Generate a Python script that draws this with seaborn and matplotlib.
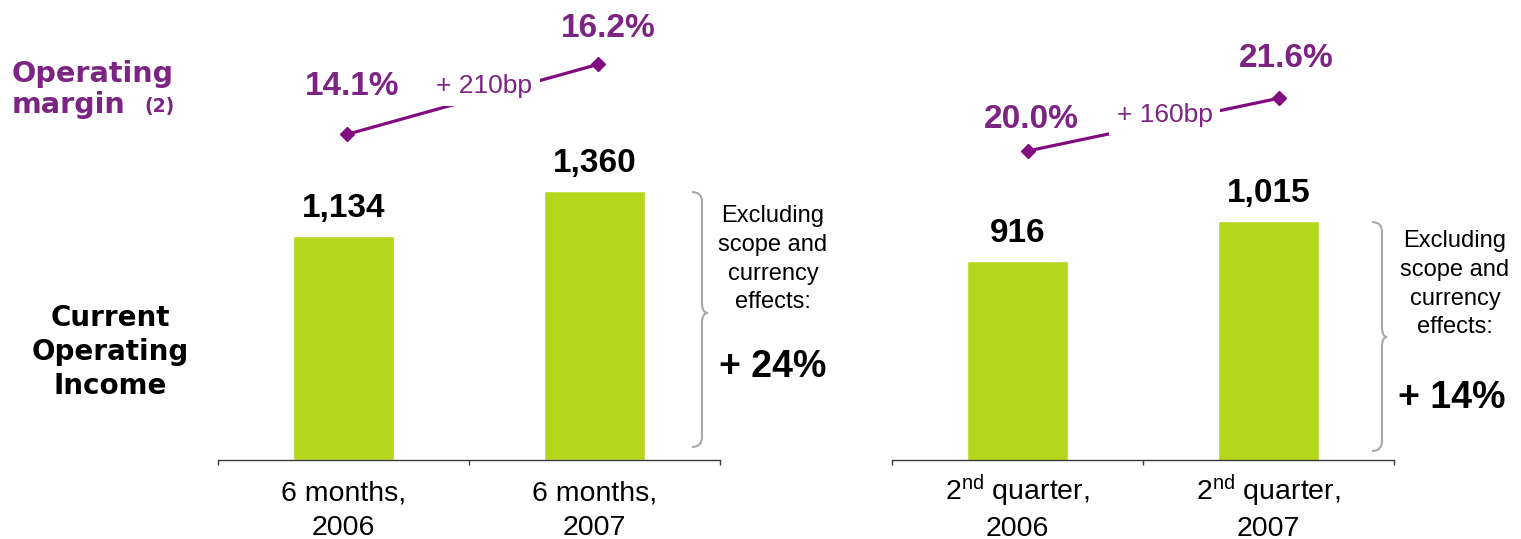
import matplotlib
matplotlib.use("Agg")
import matplotlib.pyplot as plt
import seaborn as sns
import pandas as pd
from matplotlib.path import Path
from matplotlib.patches import PathPatch

# ---- data -------------------------------------------------------------
half_year_periods = ["6 months,\n2006", "6 months,\n2007"]
half_year_income = [1134, 1360]
half_year_margin = [14.1, 16.2]

quarter_periods = ["2$^{\\mathrm{nd}}$ quarter,\n2006", "2$^{\\mathrm{nd}}$ quarter,\n2007"]
quarter_income = [916, 1015]
quarter_margin = [20.0, 21.6]

margin_change = ["+ 210bp", "+ 160bp"]
organic_growth = ["+ 24%", "+ 14%"]
note_text = "Excluding\nscope and\ncurrency\neffects:"

# ---- style ------------------------------------------------------------
W, H = 1521, 539
GREEN = "#B4D71E"
PURPLE_LINE = "#800C80"
PURPLE_TEXT = "#7B2482"
BRACE_GREY = "#A8A8A8"
AXIS_GREY = "#3A3A3A"

sns.set_style("white")
plt.rcParams["font.family"] = ["Liberation Sans", "DejaVu Sans"]
plt.rcParams["mathtext.fontset"] = "custom"
plt.rcParams["mathtext.rm"] = "Liberation Sans"
plt.rcParams["mathtext.it"] = "Liberation Sans:italic"
plt.rcParams["mathtext.bf"] = "Liberation Sans:bold"

fig = plt.figure(figsize=(W / 100, H / 100), dpi=100)


def fx(x):
    return x / W


def fy(y):
    return 1 - y / H


def ftext(x, y, s, **kw):
    return fig.text(fx(x), fy(y), s, **kw)


PX2PT = 72 / 100

panels = [
    dict(left=218, periods=half_year_periods, income=half_year_income,
         margin=half_year_margin, income_lim=(0, 2327),
         margin_lim=(4.328, 18.129), shift=0.015,
         label_px=[(4.8, 39), (10, 27)], tick_pad=14.5, tick_ls=1.45,
         change=margin_change[0], change_xy=(484, 92.7),
         brace=(692, 702, 708, 192, 313, 447),
         note_xy=(773, 205), growth=organic_growth[0], growth_xy=(772.5, 376.7)),
    dict(left=892, periods=quarter_periods, income=quarter_income,
         margin=quarter_margin, income_lim=(423.5, 1562),
         margin_lim=(10.619, 24.584), shift=0.04,
         label_px=[(3.3, 23), (8, 31.6)], tick_pad=9.0, tick_ls=1.34,
         change=margin_change[1], change_xy=(1164.5, 121.7),
         brace=(1372, 1382, 1387, 222, 337, 451),
         note_xy=(1455, 230), growth=organic_growth[1], growth_xy=(1452, 408)),
]

for p in panels:
    ax = fig.add_axes([fx(p["left"]), fy(460), fx(502), 460 / H])
    df = pd.DataFrame({"period": p["periods"], "income": p["income"]})
    sns.barplot(data=df, x="period", y="income", ax=ax, color=GREEN,
                saturation=1, width=0.4)
    ax.set_xlim(-0.5, 1.5)
    ax.set_ylim(*p["income_lim"])
    ax.set_xlabel("")
    ax.set_ylabel("")
    ax.set_yticks([])
    for s in ("top", "right", "left"):
        ax.spines[s].set_visible(False)
    ax.spines["bottom"].set_color(AXIS_GREY)
    ax.spines["bottom"].set_linewidth(1.0)
    ax.set_xticks([-0.5, 0.5, 1.5], minor=True)
    ax.tick_params(axis="x", which="minor", direction="out", length=3.6,
                   width=1.0, color=AXIS_GREY, bottom=True)
    ax.tick_params(axis="x", which="major", length=0, pad=p["tick_pad"],
                   labelsize=20.5, labelcolor="black")
    for lbl in ax.get_xticklabels():
        lbl.set_linespacing(p["tick_ls"])

    # income value labels
    for i, v in enumerate(p["income"]):
        ax.annotate(f"{v:,}", xy=(i, v), xytext=(0, 13.5),
                    textcoords="offset points", ha="center", va="baseline",
                    fontsize=24, fontweight="bold", color="black")

    # operating margin line on its own scale
    ax2 = ax.twinx()
    ax2.set_ylim(*p["margin_lim"])
    ax2.set_xlim(-0.5, 1.5)
    ax2.axis("off")
    xs = [i + p["shift"] for i in range(len(p["margin"]))]
    ax2.plot(xs, p["margin"], color=PURPLE_LINE, lw=2.3, marker="D",
             markersize=7.5, zorder=2)
    for x, v, (dx, dy) in zip(xs, p["margin"], p["label_px"]):
        ax2.annotate(f"{v:.1f}%", xy=(x, v), xytext=(dx * PX2PT, dy * PX2PT),
                     textcoords="offset points", ha="center", va="baseline",
                     fontsize=24, fontweight="bold", color=PURPLE_TEXT)

    cx, cy = p["change_xy"]
    ftext(cx, cy, p["change"], ha="center", va="baseline", fontsize=19,
          color=PURPLE_TEXT, zorder=5,
          bbox=dict(boxstyle="square,pad=0.3", facecolor="white",
                    edgecolor="none"))

    # curly brace beside the bars
    xe, xv, xt, top, mid, bot = p["brace"]
    r = 10
    pts = [(xe, top), (xv, top), (xv, top + r), (xv, mid - r), (xv, mid),
           (xt, mid), (xv, mid), (xv, mid + r), (xv, bot - r), (xv, bot),
           (xe, bot)]
    codes = [Path.MOVETO, Path.CURVE3, Path.CURVE3, Path.LINETO, Path.CURVE3,
             Path.CURVE3, Path.CURVE3, Path.CURVE3, Path.LINETO, Path.CURVE3,
             Path.CURVE3]
    path = Path([(fx(a), fy(b)) for a, b in pts], codes)
    fig.add_artist(PathPatch(path, fill=False, edgecolor=BRACE_GREY, lw=1.5,
                             transform=fig.transFigure))

    nx, ny = p["note_xy"]
    ftext(nx, ny, note_text, ha="center", va="top", fontsize=17,
          linespacing=1.4, color="black")
    gx, gy = p["growth_xy"]
    ftext(gx, gy, p["growth"], ha="center", va="baseline", fontsize=27,
          fontweight="bold", color="black")

# left-hand captions
ftext(12, 60, "Operating", ha="left", va="top", fontsize=20.6,
      fontweight="bold", color=PURPLE_TEXT, family="DejaVu Sans")
ftext(12, 112.7, "margin", ha="left", va="baseline", fontsize=20.6,
      fontweight="bold", color=PURPLE_TEXT, family="DejaVu Sans")
ftext(144, 97, "(2)", ha="left", va="top", fontsize=13.5, fontweight="bold",
      color=PURPLE_TEXT, family="DejaVu Sans")
ftext(110, 304, "Current\nOperating\nIncome", ha="center", va="top",
      fontsize=20, fontweight="bold", color="black", family="DejaVu Sans",
      linespacing=1.275)

fig.savefig("out.png", dpi=100)
